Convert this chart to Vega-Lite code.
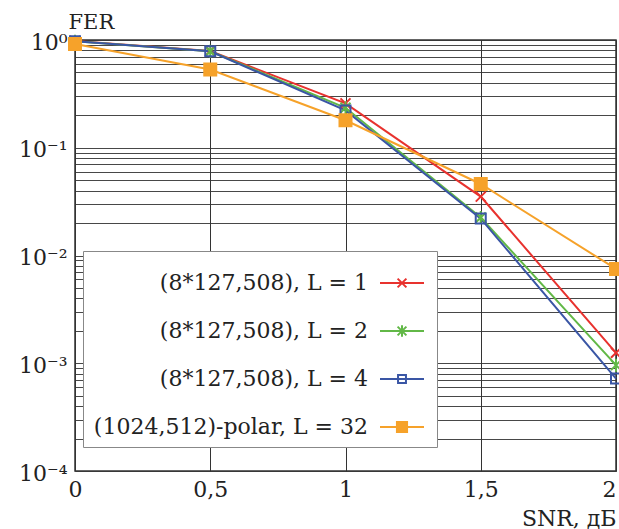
{
  "$schema": "https://vega.github.io/schema/vega-lite/v6.json",
  "width": 541,
  "height": 431,
  "autosize": {"type": "none"},
  "padding": {"left": 75, "top": 40, "right": 3, "bottom": 58},
  "background": "white",
  "config": {
    "font": "DejaVu Serif",
    "view": {"stroke": "#333333", "strokeWidth": 1.5},
    "axis": {"labelColor": "#222222", "titleColor": "#222222"}
  },
  "data": {
    "values": [
      {"s": "(8*127,508), L = 1", "x": 0, "y": 0.98},
      {"s": "(8*127,508), L = 1", "x": 0.5, "y": 0.79},
      {"s": "(8*127,508), L = 1", "x": 1, "y": 0.258},
      {"s": "(8*127,508), L = 1", "x": 1.5, "y": 0.0352},
      {"s": "(8*127,508), L = 1", "x": 2, "y": 0.00125},
      {"s": "(8*127,508), L = 2", "x": 0, "y": 0.975},
      {"s": "(8*127,508), L = 2", "x": 0.5, "y": 0.785},
      {"s": "(8*127,508), L = 2", "x": 1, "y": 0.235},
      {"s": "(8*127,508), L = 2", "x": 1.5, "y": 0.0225},
      {"s": "(8*127,508), L = 2", "x": 2, "y": 0.00096},
      {"s": "(8*127,508), L = 4", "x": 0, "y": 0.975},
      {"s": "(8*127,508), L = 4", "x": 0.5, "y": 0.785},
      {"s": "(8*127,508), L = 4", "x": 1, "y": 0.222},
      {"s": "(8*127,508), L = 4", "x": 1.5, "y": 0.022},
      {"s": "(8*127,508), L = 4", "x": 2, "y": 0.00072},
      {"s": "(1024,512)-polar, L = 32", "x": 0, "y": 0.918},
      {"s": "(1024,512)-polar, L = 32", "x": 0.5, "y": 0.532},
      {"s": "(1024,512)-polar, L = 32", "x": 1, "y": 0.18},
      {"s": "(1024,512)-polar, L = 32", "x": 1.5, "y": 0.0461},
      {"s": "(1024,512)-polar, L = 32", "x": 2, "y": 0.0075}
    ]
  },
  "encoding": {
    "x": {
      "field": "x", "type": "quantitative",
      "scale": {"domain": [0, 2], "nice": false, "zero": false},
      "axis": {
        "values": [0, 0.5, 1, 1.5, 2],
        "title": "SNR, дБ",
        "titleFont": "DejaVu Serif", "titleFontSize": 22, "titleFontWeight": "normal",
        "titleX": 541, "titleY": 54, "titleAlign": "right", "titleBaseline": "alphabetic", "titleAnchor": "end",
        "labelExpr": "replace(format(datum.value, '~g'), '.', ',')",
        "labelFont": "DejaVu Serif", "labelFontSize": 22, "labelPadding": 8,
        "labelFlush": false,
        "labelAlign": {"condition": {"test": "datum.value == 2", "value": "right"}, "value": "center"},
        "ticks": false, "domain": false,
        "grid": true, "gridColor": "#333333", "gridWidth": 1, "gridOpacity": 1
      }
    },
    "y": {
      "field": "y", "type": "quantitative",
      "scale": {"type": "log", "domain": [0.0001, 1], "nice": false},
      "axis": {
        "values": [0.0001, 0.0002, 0.0003, 0.0004, 0.0005, 0.0006, 0.0007, 0.0008, 0.0009,
                   0.001, 0.002, 0.003, 0.004, 0.005, 0.006, 0.007, 0.008, 0.009,
                   0.01, 0.02, 0.03, 0.04, 0.05, 0.06, 0.07, 0.08, 0.09,
                   0.1, 0.2, 0.3, 0.4, 0.5, 0.6, 0.7, 0.8, 0.9, 1],
        "labelExpr": "datum.value == 1 ? '10⁰' : datum.value == 0.1 ? '10⁻¹' : datum.value == 0.01 ? '10⁻²' : datum.value == 0.001 ? '10⁻³' : datum.value == 0.0001 ? '10⁻⁴' : ''",
        "labelOverlap": false,
        "labelFont": "DejaVu Serif", "labelFontSize": 22, "labelPadding": 8, "labelOffset": 2,
        "ticks": false, "domain": false,
        "grid": true, "gridColor": "#333333", "gridWidth": 1, "gridOpacity": 0.9,
        "title": "FER",
        "titleFont": "DejaVu Serif", "titleFontSize": 21, "titleFontWeight": "normal",
        "titleAngle": 0, "titleX": -7, "titleY": -12, "titleAlign": "left", "titleBaseline": "alphabetic"
      }
    }
  },
  "layer": [
    {
      "mark": {"type": "line", "strokeWidth": 2},
      "encoding": {
        "stroke": {
          "field": "s", "type": "nominal",
          "scale": {
            "domain": ["(8*127,508), L = 1", "(8*127,508), L = 2", "(8*127,508), L = 4", "(1024,512)-polar, L = 32"],
            "range": ["#e8322e", "#62b847", "#3a56a5", "#f6a22a"]
          },
          "legend": null
        }
      }
    },
    {
      "mark": {"type": "point", "filled": true, "strokeWidth": 2, "size": 100, "opacity": 1},
      "encoding": {
        "shape": {
          "field": "s", "type": "nominal",
          "scale": {
            "domain": ["(8*127,508), L = 1", "(8*127,508), L = 2", "(8*127,508), L = 4", "(1024,512)-polar, L = 32"],
            "range": [
              "M-1,-1L1,1M-1,1L1,-1",
              "M-1,-1L1,1M-1,1L1,-1M0,-1.3L0,1.3",
              "M-1,-1L1,-1L1,1L-1,1Z",
              "M-1.2,-1.2L1.2,-1.2L1.2,1.2L-1.2,1.2Z"
            ]
          },
          "legend": null
        },
        "stroke": {
          "field": "s", "type": "nominal",
          "scale": {
            "domain": ["(8*127,508), L = 1", "(8*127,508), L = 2", "(8*127,508), L = 4", "(1024,512)-polar, L = 32"],
            "range": ["#e8322e", "#62b847", "#3a56a5", "#f6a22a"]
          },
          "legend": null
        },
        "fill": {
          "field": "s", "type": "nominal",
          "scale": {
            "domain": ["(8*127,508), L = 1", "(8*127,508), L = 2", "(8*127,508), L = 4", "(1024,512)-polar, L = 32"],
            "range": ["transparent", "transparent", "transparent", "#f6a22a"]
          },
          "legend": null
        }
      }
    },
    {
      "mark": {"type": "point", "filled": true, "strokeWidth": 2, "size": 1936, "opacity": 0},
      "encoding": {
        "shape": {
          "field": "s", "type": "nominal",
          "scale": {
            "domain": ["(8*127,508), L = 1", "(8*127,508), L = 2", "(8*127,508), L = 4", "(1024,512)-polar, L = 32"],
            "range": [
              "M-1,0L1,0M-0.2,-0.2L0.2,0.2M-0.2,0.2L0.2,-0.2",
              "M-1,0L1,0M-0.2,-0.2L0.2,0.2M-0.2,0.2L0.2,-0.2M0,-0.26L0,0.26",
              "M-1,0L1,0M-0.18,-0.18L0.18,-0.18L0.18,0.18L-0.18,0.18Z",
              "M-1,0L1,0M-0.23,-0.23L0.23,-0.23L0.23,0.23L-0.23,0.23Z"
            ]
          },
          "legend": {
            "title": null, "orient": "none", "legendX": 8, "legendY": 211,
            "fillColor": "white", "strokeColor": "#888888", "padding": 9,
            "rowPadding": 14, "symbolSize": 1936, "symbolStrokeWidth": 2,
            "symbolFillColor": "transparent",
            "symbolOffset": 287, "labelOffset": -57, "labelAlign": "right",
            "labelFont": "DejaVu Serif", "labelFontSize": 22, "labelColor": "#222222", "labelLimit": 0
          }
        },
        "stroke": {
          "field": "s", "type": "nominal",
          "scale": {
            "domain": ["(8*127,508), L = 1", "(8*127,508), L = 2", "(8*127,508), L = 4", "(1024,512)-polar, L = 32"],
            "range": ["#e8322e", "#62b847", "#3a56a5", "#f6a22a"]
          },
          "legend": {
            "title": null, "orient": "none", "legendX": 8, "legendY": 211,
            "fillColor": "white", "strokeColor": "#888888", "padding": 9,
            "rowPadding": 14, "symbolSize": 1936, "symbolStrokeWidth": 2,
            "symbolFillColor": "transparent",
            "symbolOffset": 287, "labelOffset": -57, "labelAlign": "right",
            "labelFont": "DejaVu Serif", "labelFontSize": 22, "labelColor": "#222222", "labelLimit": 0
          }
        },
        "fill": {
          "field": "s", "type": "nominal",
          "scale": {
            "domain": ["(8*127,508), L = 1", "(8*127,508), L = 2", "(8*127,508), L = 4", "(1024,512)-polar, L = 32"],
            "range": ["transparent", "transparent", "transparent", "#f6a22a"]
          },
          "legend": {
            "title": null, "orient": "none", "legendX": 8, "legendY": 211,
            "fillColor": "white", "strokeColor": "#888888", "padding": 9,
            "rowPadding": 14, "symbolSize": 1936, "symbolStrokeWidth": 2,
            "symbolFillColor": "transparent",
            "symbolOffset": 287, "labelOffset": -57, "labelAlign": "right",
            "labelFont": "DejaVu Serif", "labelFontSize": 22, "labelColor": "#222222", "labelLimit": 0
          }
        }
      }
    }
  ],
  "resolve": {"scale": {"stroke": "independent", "fill": "independent", "shape": "independent"}}
}
